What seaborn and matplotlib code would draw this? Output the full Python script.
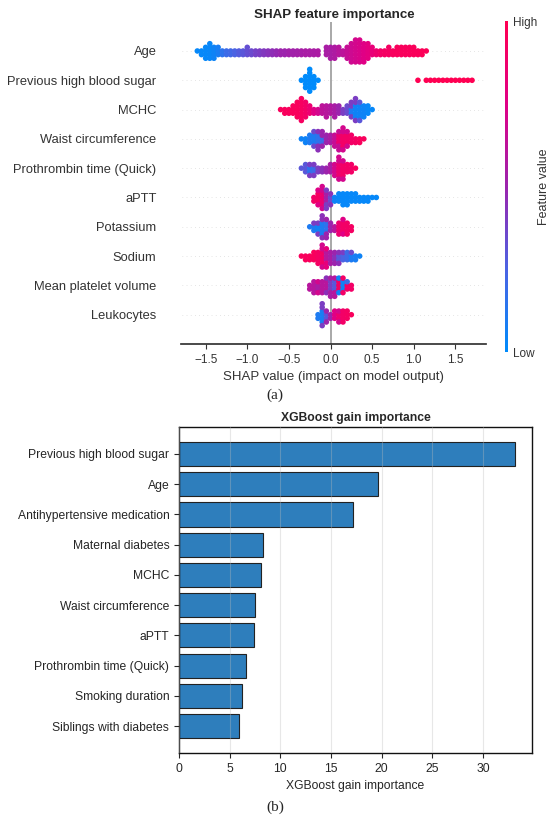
import pandas as pd
import matplotlib
matplotlib.use("Agg")
import matplotlib.pyplot as plt
from matplotlib.colors import LinearSegmentedColormap
import seaborn as sns

# ---- data ----
shap_features = ["Age", "Previous high blood sugar", "MCHC", "Waist circumference",
                 "Prothrombin time (Quick)", "aPTT", "Potassium", "Sodium",
                 "Mean platelet volume", "Leukocytes"]

# each entry: (SHAP value, number of dots, feature value 0=low .. 1=high)
age = [(-1.60, 1, .02), (-1.55, 2, .02), (-1.50, 4, .02), (-1.45, 5, .03), (-1.40, 4, .05),
       (-1.35, 3, .08), (-1.30, 2, .15), (-1.25, 2, .20), (-1.20, 2, .22), (-1.15, 2, .25),
       (-1.10, 2, .28), (-1.05, 2, .30), (-1.00, 3, .33), (-0.95, 2, .35), (-0.90, 2, .38),
       (-0.85, 2, .40), (-0.80, 2, .42), (-0.75, 2, .44), (-0.70, 2, .46), (-0.65, 2, .48),
       (-0.60, 2, .50), (-0.55, 2, .50), (-0.50, 2, .52), (-0.45, 2, .52), (-0.40, 2, .53),
       (-0.35, 2, .54), (-0.30, 2, .55), (-0.25, 2, .55), (-0.20, 2, .55), (-0.15, 2, .56),
       (-0.05, 3, .55), (0.00, 4, .55), (0.05, 4, .57), (0.10, 3, .60), (0.15, 2, .62),
       (0.20, 4, .65), (0.25, 6, .68), (0.30, 7, .70), (0.35, 7, .72), (0.40, 6, .75),
       (0.45, 5, .78), (0.50, 3, .82), (0.55, 2, .86), (0.60, 2, .90), (0.65, 2, .92),
       (0.70, 3, .92), (0.75, 2, .94), (0.80, 3, .95), (0.85, 3, .95), (0.90, 3, .95),
       (0.95, 3, .95), (1.00, 3, .96), (1.05, 2, .96), (1.10, 2, .97), (1.15, 1, .97)]
prev_sugar = [(-0.35, 1, 0), (-0.30, 4, 0), (-0.25, 7, 0), (-0.20, 4, 0), (-0.15, 1, 0),
              (1.05, 1, 1), (1.15, 1, 1), (1.20, 1, 1), (1.25, 1, 1), (1.30, 1, 1),
              (1.35, 1, 1), (1.40, 1, 1), (1.45, 1, 1), (1.50, 1, 1), (1.55, 1, 1),
              (1.60, 1, 1), (1.65, 1, 1), (1.70, 1, 1)]
mchc = [(-0.60, 1, .95), (-0.55, 2, .95), (-0.50, 2, .95), (-0.45, 3, .95), (-0.40, 5, .95),
        (-0.35, 7, .93), (-0.30, 5, .90), (-0.25, 3, .85), (-0.20, 2, .75), (-0.15, 2, .70),
        (-0.10, 3, .62), (-0.05, 4, .60), (0.00, 3, .58), (0.05, 4, .55), (0.10, 3, .50),
        (0.15, 2, .40), (0.20, 3, .35), (0.25, 2, .10), (0.25, 3, .40), (0.30, 4, .05),
        (0.30, 3, .40), (0.35, 4, .05), (0.35, 2, .30), (0.40, 4, .05), (0.45, 3, .03),
        (0.50, 1, .02)]
waist = [(-0.35, 1, .05), (-0.30, 2, .05), (-0.25, 3, .10), (-0.20, 3, .10), (-0.20, 2, .35),
         (-0.15, 3, .15), (-0.15, 3, .45), (-0.10, 2, .20), (-0.10, 3, .50), (-0.05, 3, .50),
         (0.00, 3, .55), (0.05, 4, .65), (0.10, 3, .85), (0.10, 3, .65), (0.15, 4, .90),
         (0.15, 3, .70), (0.20, 3, .90), (0.20, 2, .70), (0.25, 3, .90), (0.30, 2, .92),
         (0.35, 2, .95), (0.40, 1, .95)]
prothrombin = [(-0.35, 1, .30), (-0.30, 3, .30), (-0.25, 2, .15), (-0.25, 2, .40),
               (-0.20, 2, .20), (-0.20, 2, .40), (-0.15, 2, .40), (-0.10, 2, .45),
               (-0.05, 2, .50), (0.00, 3, .55), (0.05, 4, .70), (0.10, 4, .85),
               (0.10, 3, .70), (0.15, 4, .90), (0.15, 2, .70), (0.20, 3, .90),
               (0.25, 3, .90), (0.30, 1, .95)]
aptt = [(-0.20, 2, .90), (-0.15, 3, .92), (-0.15, 2, .75), (-0.10, 4, .85), (-0.10, 3, .70),
        (-0.05, 3, .55), (-0.05, 3, .40), (0.00, 2, .35), (0.00, 2, .45), (0.05, 2, .05),
        (0.10, 3, .03), (0.15, 4, .02), (0.20, 4, .02), (0.25, 3, .02), (0.30, 3, .02),
        (0.35, 2, .02), (0.40, 2, .02), (0.45, 2, .02), (0.50, 1, .02), (0.55, 1, .02)]
potassium = [(-0.25, 1, .10), (-0.20, 2, .10), (-0.20, 1, .40), (-0.15, 2, .05), (-0.15, 2, .40),
             (-0.10, 4, .10), (-0.10, 3, .45), (-0.05, 3, .15), (-0.05, 3, .50), (0.00, 3, .50),
             (0.05, 2, .60), (0.10, 4, .85), (0.15, 3, .90), (0.15, 2, .75), (0.20, 4, .90),
             (0.25, 2, .92)]
sodium = [(-0.35, 1, .95), (-0.30, 2, .95), (-0.25, 2, .95), (-0.20, 3, .95), (-0.15, 4, .92),
          (-0.10, 4, .90), (-0.10, 3, .70), (-0.05, 3, .60), (-0.05, 3, .80), (0.00, 4, .55),
          (0.05, 2, .45), (0.05, 2, .50), (0.10, 2, .30), (0.10, 2, .45), (0.15, 2, .25),
          (0.15, 1, .40), (0.20, 3, .20), (0.25, 2, .10), (0.25, 1, .35), (0.30, 2, .08),
          (0.35, 1, .05)]
platelet = [(-0.25, 2, .60), (-0.20, 4, .60), (-0.15, 2, .55), (-0.15, 2, .70), (-0.10, 4, .60),
            (-0.05, 3, .60), (-0.05, 2, .45), (0.00, 3, .40), (0.00, 3, .55), (0.05, 3, .30),
            (0.05, 3, .60), (0.10, 3, .90), (0.10, 2, .05), (0.15, 3, .05), (0.15, 2, .90),
            (0.20, 2, .90), (0.20, 1, .20), (0.25, 2, .90)]
leukocytes = [(-0.15, 2, .10), (-0.10, 4, .08), (-0.10, 3, .40), (-0.05, 2, .30), (-0.05, 2, .50),
              (0.00, 2, .50), (0.05, 3, .75), (0.10, 2, .85), (0.10, 2, .70), (0.15, 4, .90),
              (0.20, 3, .92), (0.25, 1, .95)]
shap_rows = [age, prev_sugar, mchc, waist, prothrombin, aptt, potassium, sodium,
             platelet, leukocytes]

gain_features = ["Previous high blood sugar", "Age", "Antihypertensive medication",
                 "Maternal diabetes", "MCHC", "Waist circumference", "aPTT",
                 "Prothrombin time (Quick)", "Smoking duration", "Siblings with diabetes"]
gain_values = [33.2, 19.6, 17.15, 8.3, 8.1, 7.5, 7.45, 6.65, 6.2, 5.95]

# expand the binned dots into one row per dot
recs = []
for name, bins in zip(shap_features, shap_rows):
    for sv, n, fv in bins:
        for _ in range(n):
            recs.append({"feature": name, "shap": sv, "value": fv})
df_shap = pd.DataFrame(recs)
df_gain = pd.DataFrame({"feature": gain_features, "gain": gain_values})

# shap style red-blue colormap
shap_cmap = LinearSegmentedColormap.from_list(
    "shap_red_blue", ["#008bfb", "#4b63e3", "#9b24ad", "#e00086", "#ff0052"])

sns.set_theme(style="white")
plt.rcParams["font.family"] = ["Liberation Sans", "DejaVu Sans"]

fig = plt.figure(figsize=(5.5, 8.21), dpi=100)

# ---- (a) SHAP beeswarm ----
ax1 = fig.add_axes([0.330, 0.581, 0.554, 0.3926])
for i in range(len(shap_features)):
    ax1.axhline(i, color="#cccccc", lw=0.5, dashes=(1, 5), zorder=-1)
ax1.axvline(0, color="#999999", lw=1.2, zorder=-1)
sns.swarmplot(data=df_shap, x="shap", y="feature", hue="value", order=shap_features,
              palette=shap_cmap, hue_norm=(0, 1), size=2.5, legend=False, ax=ax1)
ax1.set_ylim(len(shap_features), -1)
ax1.set_xlim(-1.79, 1.87)
ax1.set_xticks([-1.5, -1.0, -0.5, 0.0, 0.5, 1.0, 1.5])
for s in ["left", "right", "top"]:
    ax1.spines[s].set_visible(False)
ax1.spines["bottom"].set_color("#333333")
ax1.tick_params(axis="y", length=0, pad=18, labelsize=9.3, labelcolor="#333333")
ax1.tick_params(axis="x", length=3.5, width=0.8, color="#333333", labelsize=8.5,
                labelcolor="#333333", bottom=True)
ax1.set_ylabel("")
ax1.set_xlabel("SHAP value (impact on model output)", fontsize=9.5, color="#333333")
ax1.set_title("SHAP feature importance", fontsize=9.6, fontweight="bold", pad=3)

cax = fig.add_axes([0.918, 0.5712, 0.0064, 0.4032])
sm = plt.cm.ScalarMappable(cmap=shap_cmap, norm=plt.Normalize(0, 1))
cb = fig.colorbar(sm, cax=cax, ticks=[0, 1])
cb.set_ticklabels(["Low", "High"])
cb.ax.tick_params(labelsize=8.5, length=0, labelcolor="#333333")
cb.set_label("Feature value", size=9, labelpad=0, color="#333333")
cb.outline.set_visible(False)

fig.text(0.5, 0.519, "(a)", ha="center", va="center", fontsize=11,
         family=["Liberation Serif", "DejaVu Serif"])

# ---- (b) XGBoost gain ----
ax2 = fig.add_axes([0.3255, 0.0828, 0.642, 0.397])
sns.barplot(data=df_gain, x="gain", y="feature", color="#2e7ebc", saturation=1,
            edgecolor="#222222", linewidth=0.8, width=0.8, ax=ax2)
ax2.set_ylim(9.89, -0.89)
ax2.set_xticks([0, 5, 10, 15, 20, 25, 30])
ax2.set_axisbelow(False)
ax2.grid(axis="x", color="#bbbbbb", alpha=0.35, lw=0.8)
for s in ax2.spines.values():
    s.set_visible(True)
    s.set_color("#111111")
    s.set_linewidth(1.0)
ax2.tick_params(axis="both", length=3.5, width=0.8, labelsize=8.7, bottom=True, left=True)
ax2.set_ylabel("")
ax2.set_xlabel("XGBoost gain importance", fontsize=8.7)
ax2.set_title("XGBoost gain importance", fontsize=8.7, fontweight="bold", pad=4.5)

fig.text(0.5, 0.017, "(b)", ha="center", va="center", fontsize=11,
         family=["Liberation Serif", "DejaVu Serif"])

# lay the swarm out once, then keep those positions and draw the dots a bit
# larger so they overlap into solid blobs like the dense original
fig.canvas.draw()
for coll in ax1.collections:
    if "draw" in coll.__dict__:
        del coll.draw
    coll.set_sizes([4.0 ** 2])

fig.savefig("out.png", dpi=100)
